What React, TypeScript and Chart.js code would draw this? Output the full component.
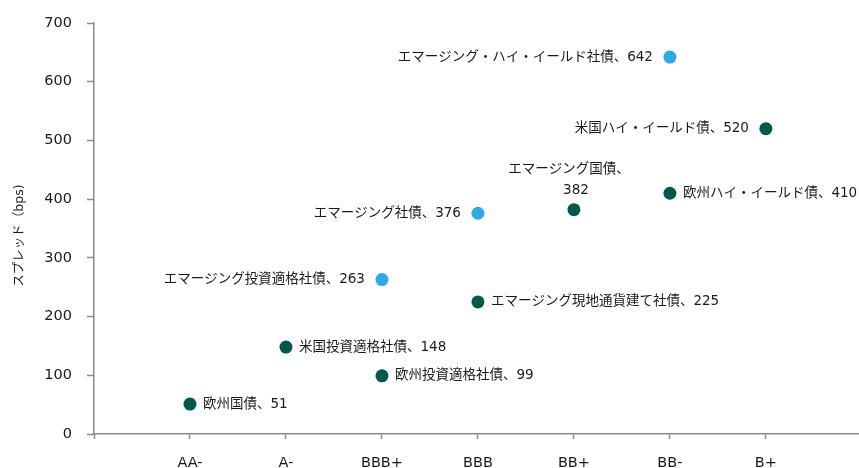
import React, { useEffect, useRef } from "react";
import { Chart, registerables } from "chart.js";

Chart.register(...registerables);

const ratings = ["AA-", "A-", "BBB+", "BBB", "BB+", "BB-", "B+"];
const yTicks = [0, 100, 200, 300, 400, 500, 600, 700];
const yTitle = "スプレッド（bps)";

const greenNames = [
  "欧州国債",
  "米国投資適格社債",
  "欧州投資適格社債",
  "エマージング現地通貨建て社債",
  "エマージング国債",
  "欧州ハイ・イールド債",
  "米国ハイ・イールド債",
];
const greenRatings = ["AA-", "A-", "BBB+", "BBB", "BB+", "BB-", "B+"];
const greenValues = [51, 148, 99, 225, 382, 410, 520];
const greenSides = ["right", "right", "right", "right", "top", "right", "left"];

const blueNames = ["エマージング投資適格社債", "エマージング社債", "エマージング・ハイ・イールド社債"];
const blueRatings = ["BBB+", "BBB", "BB-"];
const blueValues = [263, 376, 642];
const blueSides = ["left", "left", "left"];

const GREEN = "#00594C";
const BLUE = "#2DAAE1";
const AXIS = "#8a8a8a";
const TEXT = "#1a1a1a";
const FONT = '"DejaVu Sans", "Noto Sans CJK JP", sans-serif';

const labelPlugin = {
  id: "pointLabels",
  afterDatasetsDraw(chart: any) {
    const ctx = chart.ctx;
    ctx.save();
    ctx.fillStyle = TEXT;
    ctx.font = `13.5px ${FONT}`;
    chart.data.datasets.forEach((ds: any, di: number) => {
      const meta = chart.getDatasetMeta(di);
      meta.data.forEach((el: any, i: number) => {
        const d = ds.data[i];
        const side = ds.sides[i];
        const text = `${d.name}、${d.y}`;
        const x = el.x;
        const y = el.y;
        if (side === "right") {
          ctx.textAlign = "left";
          ctx.textBaseline = "middle";
          ctx.fillText(text, x + 13, y);
        } else if (side === "left") {
          ctx.textAlign = "right";
          ctx.textBaseline = "middle";
          ctx.fillText(text, x - 17, y);
        } else {
          ctx.textAlign = "center";
          ctx.textBaseline = "middle";
          ctx.fillText(`${d.name}、`, x - 5, y - 40);
          ctx.fillText(`${d.y}`, x + 2, y - 19);
        }
      });
    });
    // y-axis title
    const area = chart.chartArea;
    ctx.font = `12.5px ${FONT}`;
    ctx.textAlign = "center";
    ctx.textBaseline = "middle";
    ctx.translate(20, (area.top + area.bottom) / 2 + 7);
    ctx.rotate(-Math.PI / 2);
    ctx.fillText(yTitle, 0, 0);
    ctx.restore();
  },
};

export default function App() {
  const ref = useRef<HTMLCanvasElement | null>(null);

  useEffect(() => {
    document.body.style.margin = "0";
    if (!ref.current) return;
    const mk = (names: string[], rs: string[], vals: number[]) =>
      vals.map((v, i) => ({ x: ratings.indexOf(rs[i]), y: v, name: names[i] }));

    const chart = new Chart(ref.current, {
      type: "scatter",
      data: {
        datasets: [
          {
            label: "green",
            data: mk(greenNames, greenRatings, greenValues),
            sides: greenSides,
            backgroundColor: GREEN,
            borderWidth: 0,
            pointRadius: 6.5,
          } as any,
          {
            label: "blue",
            data: mk(blueNames, blueRatings, blueValues),
            sides: blueSides,
            backgroundColor: BLUE,
            borderWidth: 0,
            pointRadius: 6.5,
          } as any,
        ],
      },
      options: {
        animation: false,
        responsive: false,
        maintainAspectRatio: false,
        layout: { autoPadding: false, padding: { left: 14, top: 23, right: 0, bottom: 0 } },
        plugins: {
          legend: { display: false },
          tooltip: { enabled: false },
        },
        scales: {
          x: {
            type: "linear",
            min: -1,
            max: 6.97,
            afterBuildTicks: (s: any) => {
              s.ticks = [-1, ...ratings.map((_, i) => i)].map((v) => ({ value: v }));
            },
            afterFit: (s: any) => {
              s.height = 34;
              s.paddingLeft = 0;
              s.paddingRight = 0;
            },
            ticks: {
              autoSkip: false,
              maxRotation: 0,
              padding: 16,
              color: TEXT,
              font: { family: FONT, size: 14.5 },
              callback: (v: any) => ratings[v] ?? "",
            },
            grid: {
              display: true,
              drawOnChartArea: false,
              drawTicks: true,
              tickLength: 5,
              tickColor: AXIS,
              tickWidth: 1.5,
            },
            border: { display: true, color: AXIS, width: 1.5 },
          },
          y: {
            type: "linear",
            min: 0,
            max: 700,
            afterBuildTicks: (s: any) => {
              s.ticks = yTicks.map((v) => ({ value: v }));
            },
            afterFit: (s: any) => {
              s.width = 80;
              s.paddingTop = 0;
              s.paddingBottom = 0;
            },
            ticks: {
              padding: 15,
              color: TEXT,
              font: { family: FONT, size: 14.5 },
            },
            grid: {
              display: true,
              drawOnChartArea: false,
              drawTicks: true,
              tickLength: 7,
              tickColor: AXIS,
              tickWidth: 1.5,
            },
            border: { display: true, color: AXIS, width: 1.5 },
            title: { display: false },
          },
        },
      } as any,
      plugins: [labelPlugin],
    });
    return () => chart.destroy();
  }, []);

  return (
    <div style={{ width: 859, height: 468 }}>
      <canvas ref={ref} width={859} height={468} style={{ display: "block" }} />
    </div>
  );
}
